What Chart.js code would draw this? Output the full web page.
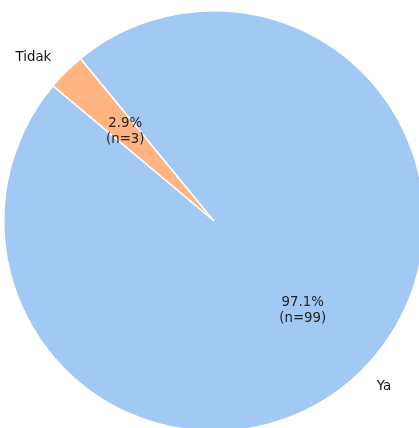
<!DOCTYPE html>
<html>
<head>
<meta charset="utf-8">
<script src="https://cdn.jsdelivr.net/npm/chart.js@4/dist/chart.umd.min.js"></script>
<style>
  html, body { margin: 0; padding: 0; background: #fff; overflow: hidden; }
  #wrap { position: relative; width: 430px; height: 440px; }
</style>
</head>
<body>
<div id="wrap"><canvas id="pie"></canvas></div>
<script>
// --- DATA ---
const labels = ["Tidak", "Ya"];
const counts = [3, 99];
const colors = ["#ffb482", "#a1c9f4"];

const total = counts.reduce((a, b) => a + b, 0);
const FONT = "13.3px 'DejaVu Sans', sans-serif";

// draws the percent labels inside and the category labels outside, like matplotlib autopct
const pieLabels = {
    id: "pieLabels",
    afterDatasetsDraw(chart) {
        const ctx = chart.ctx;
        const arcs = chart.getDatasetMeta(0).data;
        ctx.save();
        ctx.font = FONT;
        arcs.forEach((arc, i) => {
            const mid = (arc.startAngle + arc.endAngle) / 2;
            const r = arc.outerRadius;
            const cx = arc.x, cy = arc.y;

            // percent + n at 0.6 r
            const px = cx + Math.cos(mid) * r * 0.6;
            const py = cy + Math.sin(mid) * r * 0.6;
            const pct = (counts[i] / total * 100).toFixed(1) + "%";
            ctx.fillStyle = "#222";
            ctx.textAlign = "center";
            ctx.textBaseline = "middle";
            ctx.fillText(pct, px, py - 8);
            ctx.fillText("(n=" + counts[i] + ")", px, py + 8);

            // category name at 1.1 r
            const lx = cx + Math.cos(mid) * r * 1.1;
            const ly = cy + Math.sin(mid) * r * 1.1;
            ctx.fillStyle = "#111";
            ctx.textAlign = lx < cx ? "right" : "left";
            ctx.fillText(labels[i], lx, ly + 1);
        });
        ctx.restore();
    }
};

new Chart(document.getElementById("pie"), {
    type: "pie",
    data: {
        labels: labels,
        datasets: [{
            data: counts,
            backgroundColor: colors,
            borderColor: "#ffffff",
            borderWidth: 1.5
        }]
    },
    options: {
        responsive: true,
        maintainAspectRatio: false,
        animation: false,
        rotation: -50,
        layout: { padding: { left: 3, top: 10, right: 5, bottom: 8 } },
        plugins: {
            legend: { display: false },
            tooltip: { enabled: false }
        }
    },
    plugins: [pieLabels]
});
</script>
</body>
</html>
